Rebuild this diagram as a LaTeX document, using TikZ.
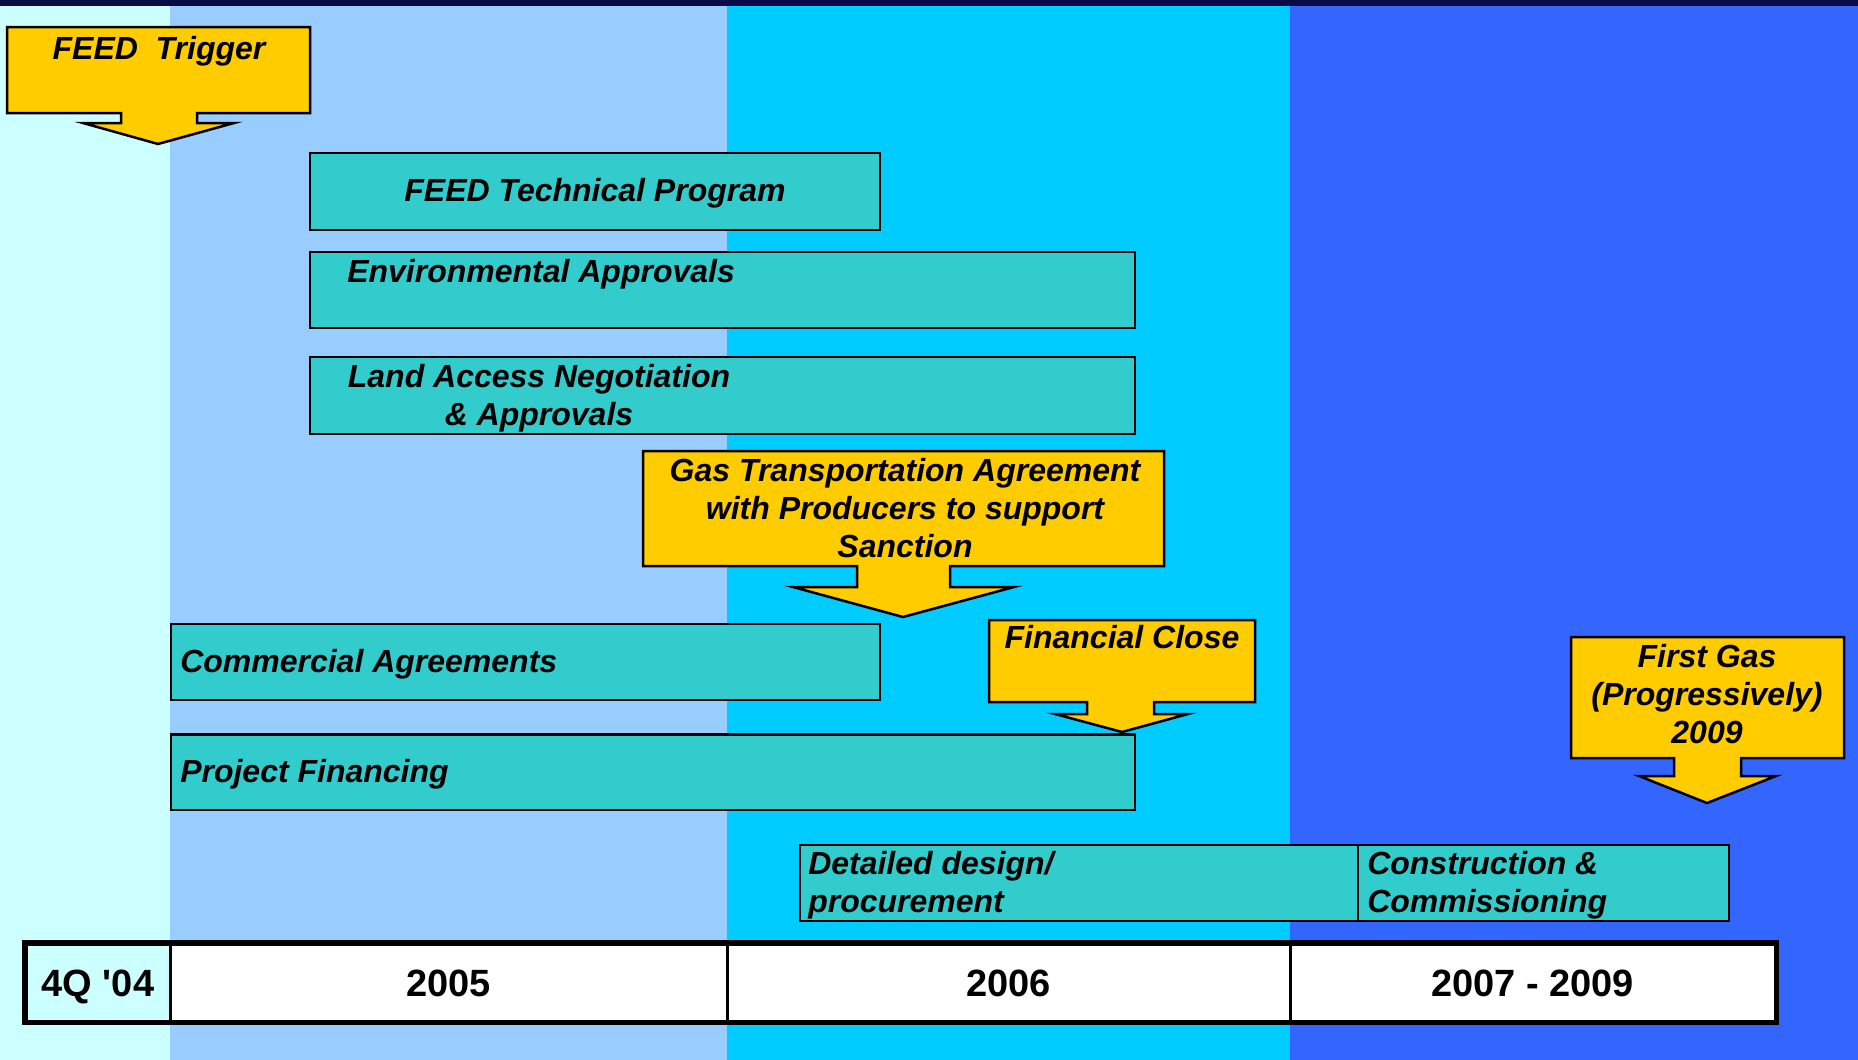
\documentclass[tikz,border=0pt]{standalone}
\usepackage{fontspec}
\setmainfont{Liberation Sans}
\usetikzlibrary{fit}

\definecolor{topnavy}{RGB}{10,10,70}
\definecolor{bandquarter}{RGB}{204,255,255}
\definecolor{bandfive}{RGB}{153,204,255}
\definecolor{bandsix}{RGB}{0,204,255}
\definecolor{bandseven}{RGB}{51,102,255}
\definecolor{barteal}{RGB}{51,204,204}
\definecolor{calloutyellow}{RGB}{255,204,0}

\tikzset{every picture/.style={line width=1.25pt}}
\tikzset{
	task bar/.style={draw=black, fill=barteal, inner sep=0pt},
	callout box/.style={draw=black, fill=calloutyellow, line join=miter},
	label text/.style={font=\fontsize{16}{19}\selectfont\bfseries\itshape, inner sep=0pt},
	year cell/.style={draw=black, line width=1.5pt, inner sep=0pt},
	year text/.style={font=\fontsize{19}{22}\selectfont\bfseries, inner sep=0pt, anchor=base}}

\begin{document}
\begin{tikzpicture}[x=0.5pt,y=0.5pt,yscale=-1,xscale=1]
	\useasboundingbox (0,0) rectangle (1858,1060);

	%Shape: Background bands
	\fill[bandquarter] (0,0) rectangle (170,1060);
	\fill[bandfive] (170,0) rectangle (727,1060);
	\fill[bandsix] (727,0) rectangle (1290,1060);
	\fill[bandseven] (1290,0) rectangle (1858,1060);
	\fill[topnavy] (0,0) rectangle (1858,6);

	%Shape: Task bars
	\node[task bar, fit={(310,153) (880,230)}] (feedtech) {};
	\node[task bar, fit={(310,252) (1135,328)}] (envappr) {};
	\node[task bar, fit={(310,357) (1135,434)}] (landaccess) {};
	\node[task bar, fit={(171,624) (880,700)}] (commercial) {};
	\node[task bar, fit={(171,735) (1135,810)}] (projfin) {};
	\node[task bar, fit={(800,845) (1358,921)}] (detdesign) {};
	\node[task bar, fit={(1358,845) (1729,921)}] (construction) {};

	% Text Node
	\node[label text] (feedtech txt) at ([yshift=1]feedtech.center) {FEED Technical Program};
	% Text Node
	\node[label text, anchor=mid west] (envappr txt) at (346,277) {Environmental Approvals};
	% Text Node
	\node[label text, align=center] (landaccess txt) at (539,398) {Land Access Negotiation\\\& Approvals};
	% Text Node
	\node[label text, anchor=mid west] (commercial txt) at (179,667) {Commercial Agreements};
	% Text Node
	\node[label text, anchor=mid west] (projfin txt) at (179,777) {Project Financing};
	% Text Node
	\node[label text, align=left, anchor=west] (detdesign txt) at (807,885) {Detailed design/\\procurement};
	% Text Node
	\node[label text, align=left, anchor=west] (construction txt) at (1366,885) {Construction \&\\Commissioning};

	%Shape: Callout FEED Trigger
	\draw[callout box] (7,27) -- (310,27) -- (310,113) -- (197,113) -- (197,123) -- (234,123) -- (158,144) -- (83,123) -- (121,123) -- (121,113) -- (7,113) -- cycle;
	%Shape: Callout Gas Transportation Agreement
	\draw[callout box] (643,451) -- (1164,451) -- (1164,566) -- (950,566) -- (950,587) -- (1014,587) -- (903,617) -- (793,587) -- (857,587) -- (857,566) -- (643,566) -- cycle;
	%Shape: Callout First Gas
	\draw[callout box] (1571,637) -- (1844,637) -- (1844,758) -- (1741,758) -- (1741,776) -- (1776,776) -- (1707,803) -- (1639,776) -- (1674,776) -- (1674,758) -- (1571,758) -- cycle;
	%Shape: Callout Financial Close
	\draw[callout box] (989,620) -- (1255,620) -- (1255,702) -- (1154,702) -- (1154,714) -- (1188,714) -- (1122,732) -- (1055,714) -- (1087,714) -- (1087,702) -- (989,702) -- cycle;
	\draw (projfin.north west) -- (projfin.north east);

	% Text Node
	\node[label text] (trigger txt) at (159,51) {FEED\ \ Trigger};
	% Text Node
	\node[label text, align=center] (gta txt) at (905,508) {Gas Transportation Agreement\\with Producers to support\\Sanction};
	% Text Node
	\node[label text] (finclose txt) at (1122,637) {Financial Close};
	% Text Node
	\node[label text, align=center] (firstgas txt) at (1707,694) {First Gas\\(Progressively)\\2009};

	%Shape: Year table
	\node[year cell, fill=bandquarter, fit={(26,944) (170,1021)}] (q404) {};
	\node[year cell, fill=white, fit={(170,944) (727,1021)}] (y2005) {};
	\node[year cell, fill=white, fit={(727,944) (1290,1021)}] (y2006) {};
	\node[year cell, fill=white, fit={(1290,944) (1775,1021)}] (y2007) {};
	\draw[line width=2.25pt] (q404.north west) rectangle (y2007.south east);

	% Text Node
	\node[year text] at (q404.center |- 0,996) {4Q \textquotesingle 04};
	% Text Node
	\node[year text] at (y2005.center |- 0,996) {2005};
	% Text Node
	\node[year text] at (y2006.center |- 0,996) {2006};
	% Text Node
	\node[year text] at (y2007.center |- 0,996) {2007 - 2009};

\end{tikzpicture}
\end{document}
